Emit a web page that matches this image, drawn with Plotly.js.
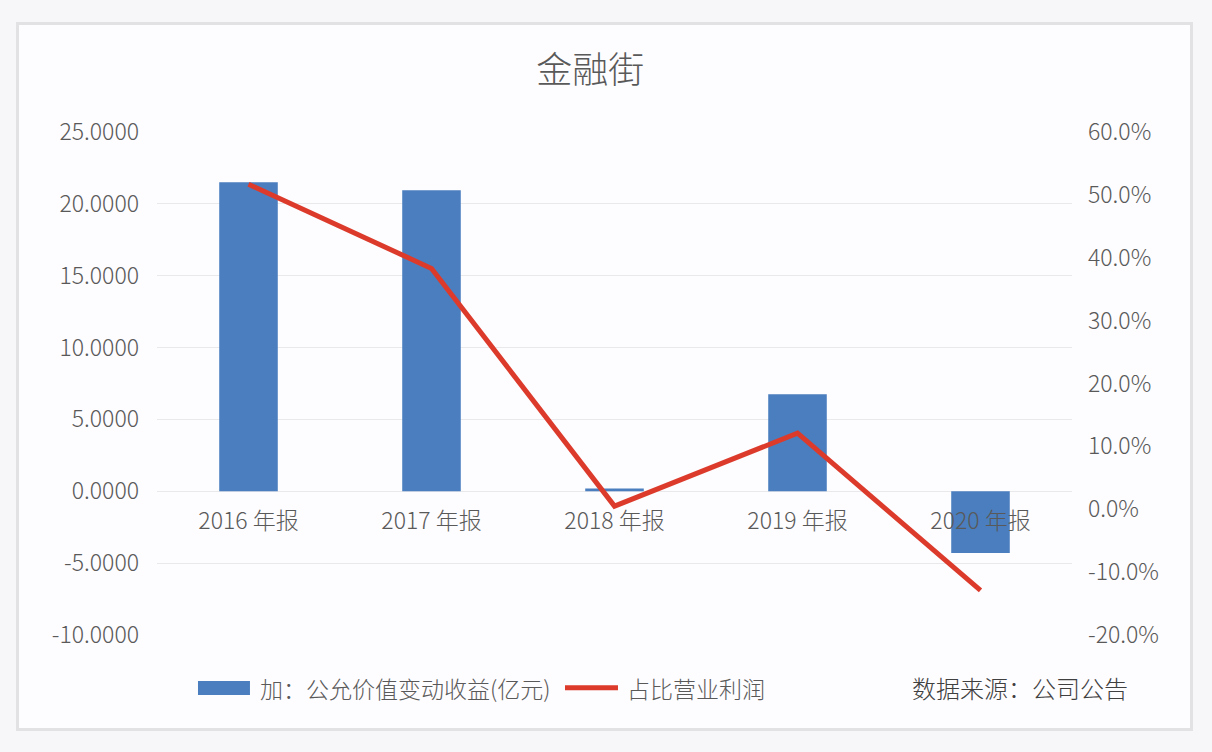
<!DOCTYPE html>
<html>
<head>
<meta charset="utf-8">
<script src="https://cdn.plot.ly/plotly-3.0.1.min.js"></script>
<style>
  html, body { margin: 0; padding: 0; background: #f7f7f9; width: 1212px; height: 752px; overflow: hidden; }
  #frame { position: absolute; left: 16px; top: 22px; width: 1171px; height: 703px;
           border: 3px solid #e2e2e4; background: #fdfcfe; }
  #chart { position: absolute; left: 0; top: 0; width: 1212px; height: 752px; }
</style>
</head>
<body>
<div id="frame"></div>
<div id="chart"></div>
<script>
// categories and values
const years = ["2016 年报", "2017 年报", "2018 年报", "2019 年报", "2020 年报"];
const fairValueGain = [21.5, 20.95, 0.2, 6.75, -4.3];      // 亿元
const shareOfProfit = [0.517, 0.383, 0.005, 0.121, -0.129]; // 占比营业利润

// tick labels (plain hyphen for negatives, as in the original)
const leftTicks = [-10, -5, 0, 5, 10, 15, 20, 25];
const leftTickLabels = ["-10.0000", "-5.0000", "0.0000", "5.0000", "10.0000", "15.0000", "20.0000", "25.0000"];
const rightTicks = [-0.2, -0.1, 0, 0.1, 0.2, 0.3, 0.4, 0.5, 0.6];
const rightTickLabels = ["-20.0%", "-10.0%", "0.0%", "10.0%", "20.0%", "30.0%", "40.0%", "50.0%", "60.0%"];

const barName = "加：公允价值变动收益(亿元)";
const lineName = "占比营业利润";
const sourceNote = "数据来源：公司公告";

const blue = "#4a7ebf";
const red = "#dc3b2c";
const textColor = "#595959";
const font = "Noto Sans CJK SC, Noto Sans, sans-serif";
const tickFont = { size: 23, color: textColor, family: font, weight: 300 };

const bars = {
    x: years,
    y: fairValueGain,
    type: "bar",
    name: barName,
    marker: { color: blue },
    width: 0.32,
    showlegend: false
};

const line = {
    x: years,
    y: shareOfProfit,
    yaxis: "y2",
    type: "scatter",
    mode: "lines",
    name: lineName,
    line: { color: red, width: 5 },
    showlegend: false
};

// legend drawn by hand so the swatches keep Excel's wide shape
const legY = -0.105;
const legendShapes = [
    { type: "rect", xref: "paper", yref: "paper", x0: 0.0448, x1: 0.1016, y0: -0.1193, y1: -0.0915,
      fillcolor: blue, line: { width: 0 } },
    { type: "line", xref: "paper", yref: "paper", x0: 0.4459, x1: 0.5038, y0: legY, y1: legY,
      line: { color: red, width: 5 } }
];
const legendText = { size: 23, color: textColor, family: font, weight: 300 };

const layout = {
    width: 1212,
    height: 752,
    margin: { l: 157, r: 140, t: 132, b: 117 },
    paper_bgcolor: "rgba(0,0,0,0)",
    plot_bgcolor: "rgba(0,0,0,0)",
    font: { family: font, color: textColor, size: 23 },
    title: {
        text: "金融街",
        font: { size: 36, color: textColor, family: font, weight: 300 },
        x: 0.487, xanchor: "center",
        y: 0.907, yanchor: "middle"
    },
    xaxis: {
        anchor: "free",
        position: 0.2863, // the zero line of the left axis
        showgrid: false,
        showline: false,
        ticks: "",
        ticklabelstandoff: 14,
        tickfont: tickFont
    },
    yaxis: {
        range: [-10, 25],
        tickvals: leftTicks,
        ticktext: leftTickLabels,
        gridcolor: "#e9e9ec",
        zeroline: false,
        showline: false,
        ticklabelstandoff: 17,
        tickfont: tickFont
    },
    yaxis2: {
        overlaying: "y",
        side: "right",
        range: [-0.2, 0.6],
        tickvals: rightTicks,
        ticktext: rightTickLabels,
        showgrid: false,
        zeroline: false,
        showline: false,
        ticklabelstandoff: 15,
        tickfont: tickFont
    },
    shapes: legendShapes,
    annotations: [
        { text: barName, xref: "paper", yref: "paper", x: 0.1104, y: legY,
          xanchor: "left", yanchor: "middle", showarrow: false, font: legendText },
        { text: lineName, xref: "paper", yref: "paper", x: 0.5115, y: legY,
          xanchor: "left", yanchor: "middle", showarrow: false, font: legendText },
        { text: sourceNote, xref: "paper", yref: "paper", x: 0.943, y: legY,
          xanchor: "center", yanchor: "middle", showarrow: false,
          font: { size: 24, color: "#404040", family: font, weight: 300 } }
    ]
};

Plotly.newPlot("chart", [bars, line], layout, { displayModeBar: false, staticPlot: true });
</script>
</body>
</html>
